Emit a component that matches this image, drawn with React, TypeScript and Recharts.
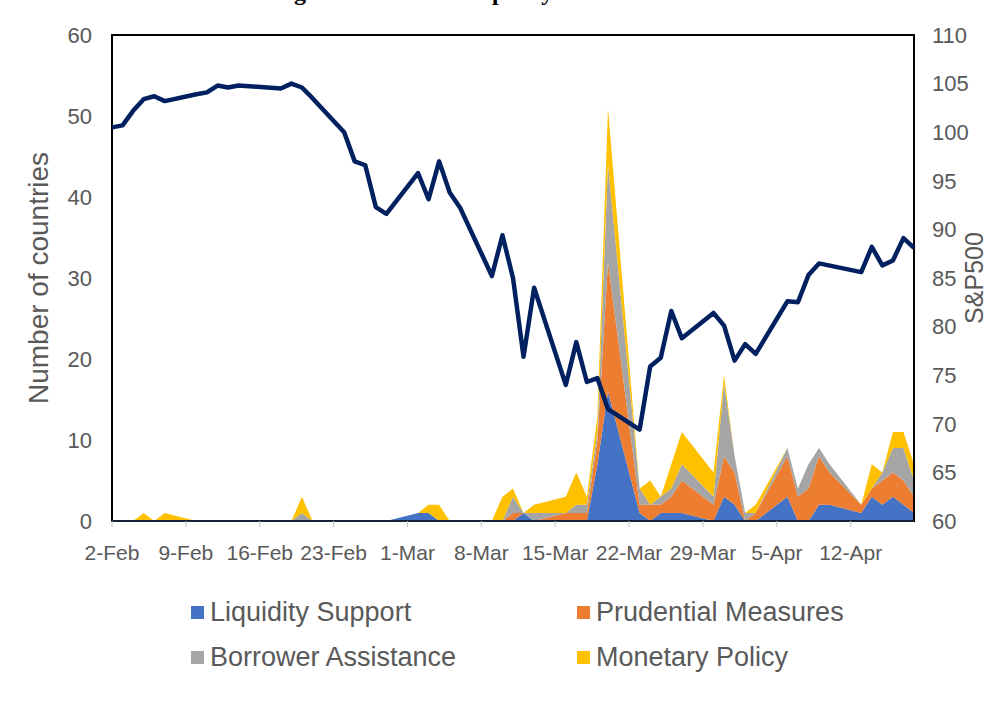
import React from 'react';
import { ComposedChart, Area, Line, XAxis, YAxis, Legend, ReferenceArea } from 'recharts';

// trading days (plus the two edge days where the axis starts/ends)
const dates = [
  '2-Feb', '3-Feb', '4-Feb', '5-Feb', '6-Feb', '7-Feb',
  '10-Feb', '11-Feb', '12-Feb', '13-Feb', '14-Feb',
  '17-Feb', '18-Feb', '19-Feb', '20-Feb', '21-Feb',
  '24-Feb', '25-Feb', '26-Feb', '27-Feb', '28-Feb',
  '2-Mar', '3-Mar', '4-Mar', '5-Mar', '6-Mar',
  '9-Mar', '10-Mar', '11-Mar', '12-Mar', '13-Mar',
  '16-Mar', '17-Mar', '18-Mar', '19-Mar', '20-Mar',
  '23-Mar', '24-Mar', '25-Mar', '26-Mar', '27-Mar',
  '30-Mar', '31-Mar', '1-Apr', '2-Apr', '3-Apr',
  '6-Apr', '7-Apr', '8-Apr', '9-Apr', '10-Apr',
  '13-Apr', '14-Apr', '15-Apr', '16-Apr', '17-Apr',
  '18-Apr',
];

const liquiditySupport = [
  0, 0, 0, 0, 0, 0,
  0, 0, 0, 0, 0,
  0, 0, 0, 0, 0,
  0, 0, 0, 0, 0,
  1, 1, 0, 0, 0,
  0, 0, 0, 1, 0,
  0, 0, 0, 7, 16,
  1, 0, 1, 1, 1,
  0, 3, 2, 0, 0,
  3, 0, 0, 2, 2,
  1, 3, 2, 3, 2,
  1,
];

const prudentialMeasures = [
  0, 0, 0, 0, 0, 0,
  0, 0, 0, 0, 0,
  0, 0, 0, 0, 0,
  0, 0, 0, 0, 0,
  0, 0, 0, 0, 0,
  0, 0, 1, 0, 0,
  1, 1, 1, 3, 16,
  1, 2, 1, 2, 4,
  2, 5, 4, 0, 1,
  5, 3, 4, 6, 4,
  1, 1, 3, 3, 3,
  2,
];

const borrowerAssistance = [
  0, 0, 0, 0, 0, 0,
  0, 0, 0, 0, 0,
  0, 0, 0, 1, 0,
  0, 0, 0, 0, 0,
  0, 0, 0, 0, 0,
  0, 0, 2, 0, 1,
  0, 1, 1, 1, 12,
  2, 0, 1, 1, 2,
  1, 9, 2, 1, 0,
  1, 1, 3, 1, 1,
  0, 0, 1, 3, 4,
  2,
];

const monetaryPolicy = [
  0, 0, 0, 1, 0, 1,
  0, 0, 0, 0, 0,
  0, 0, 0, 2, 0,
  0, 0, 0, 0, 0,
  0, 1, 2, 0, 0,
  0, 3, 1, 0, 1,
  2, 4, 1, 2, 7,
  0, 3, 0, 3, 4,
  3, 1, 0, 0, 1,
  0, 0, 0, 0, 0,
  0, 3, 0, 2, 2,
  2,
];

// S&P500, rebased
const sp500 = [
  100.5, 100.7, 102.2, 103.4, 103.7, 103.2,
  103.9, 104.1, 104.8, 104.6, 104.8,
  null, 104.5, 105.0, 104.6, 103.5,
  100.0, 97.0, 96.6, 92.3, 91.6,
  95.8, 93.1, 97.0, 93.8, 92.2,
  85.2, 89.4, 85.0, 76.9, 84.0,
  74.0, 78.4, 74.3, 74.7, 71.5,
  69.4, 75.9, 76.8, 81.6, 78.8,
  81.4, 80.1, 76.5, 78.2, 77.2,
  82.6, 82.5, 85.3, 86.5, null,
  85.6, 88.2, 86.3, 86.8, 89.1,
  88.1,
];

const tickLabels = ['2-Feb', '9-Feb', '16-Feb', '23-Feb', '1-Mar', '8-Mar', '15-Mar', '22-Mar', '29-Mar', '5-Apr', '12-Apr'];
const leftTicks = [0, 10, 20, 30, 40, 50, 60];
const rightTicks = [60, 65, 70, 75, 80, 85, 90, 95, 100, 105, 110];

const SERIES = [
  { key: 'liquidity', name: 'Liquidity Support', color: '#4472C4', values: liquiditySupport },
  { key: 'prudential', name: 'Prudential Measures', color: '#ED7D31', values: prudentialMeasures },
  { key: 'borrower', name: 'Borrower Assistance', color: '#A5A5A5', values: borrowerAssistance },
  { key: 'monetary', name: 'Monetary Policy', color: '#FFC000', values: monetaryPolicy },
];

const FONT = "'Liberation Sans', Arial, sans-serif";
const GREY = '#595959';

// days since 2-Feb (2020 is a leap year)
const MONTH_OFFSET: Record<string, number> = { Feb: -2, Mar: 27, Apr: 58 };
const dayOf = (label: string) => {
  const [d, m] = label.split('-');
  return MONTH_OFFSET[m] + Number(d);
};
const labelOfDay: Record<number, string> = {};
tickLabels.forEach((l) => { labelOfDay[dayOf(l)] = l; });

const data = dates.map((date, i) => {
  const row: Record<string, any> = { date, day: dayOf(date), sp500: sp500[i] };
  SERIES.forEach((s) => { row[s.key] = s.values[i]; });
  return row;
});

const renderLegend = () => (
  <div style={{ display: 'grid', gridTemplateColumns: '386px 320px', paddingLeft: 191 }}>
    {SERIES.map((s) => (
      <div key={s.key} style={{ display: 'flex', alignItems: 'center', height: 45 }}>
        <span style={{ display: 'inline-block', width: 13, height: 13, background: s.color, marginRight: 6 }} />
        <span style={{ fontSize: 27, color: GREY, fontFamily: FONT }}>{s.name}</span>
      </div>
    ))}
  </div>
);

export default function App() {
  return (
    <div style={{ position: 'absolute', left: 0, top: 0, width: 992, height: 706, background: '#fff', overflow: 'hidden' }}>
      {/* title sits mostly above the cropped picture, as in the source */}
      <div
        style={{
          position: 'absolute', top: -21, left: 0, width: 992, textAlign: 'center',
          fontFamily: "'Liberation Serif', 'Times New Roman', serif", fontWeight: 'bold', fontSize: 24,
        }}
      >
        Figure 1. Timeline of policy announcements
      </div>
      <ComposedChart width={992} height={706} data={data} margin={{ top: 35, right: 0, bottom: 145, left: 0 }}>
        <XAxis
          dataKey="day"
          type="number"
          domain={['dataMin', 'dataMax']}
          ticks={tickLabels.map(dayOf)}
          tickFormatter={(v: number) => labelOfDay[v] ?? ''}
          height={40}
          tickSize={6}
          tickMargin={18}
          axisLine={{ stroke: '#1f2b4a', strokeWidth: 1.5 }}
          tickLine={{ stroke: '#bfbfbf' }}
          tick={{ fill: GREY, fontSize: 21, fontFamily: FONT }}
        />
        <YAxis
          yAxisId="left"
          orientation="left"
          width={112}
          domain={[0, 60]}
          ticks={leftTicks}
          axisLine={false}
          tickLine={false}
          tickMargin={14}
          tick={{ fill: GREY, fontSize: 22, fontFamily: FONT }}
          label={{ value: 'Number of countries', angle: -90, position: 'center', dx: -18, fill: GREY, fontSize: 28, fontFamily: FONT }}
        />
        <YAxis
          yAxisId="right"
          orientation="right"
          width={78}
          domain={[60, 110]}
          ticks={rightTicks}
          axisLine={false}
          tickLine={false}
          tickMargin={12}
          tick={{ fill: GREY, fontSize: 22, fontFamily: FONT }}
          label={{ value: 'S&P500', angle: -90, position: 'center', dx: 21, fill: GREY, fontSize: 25, fontFamily: FONT }}
        />
        {SERIES.map((s) => (
          <Area
            key={s.key}
            yAxisId="left"
            type="linear"
            dataKey={s.key}
            name={s.name}
            stackId="policy"
            stroke="none"
            fill={s.color}
            fillOpacity={1}
            isAnimationActive={false}
          />
        ))}
        <Line
          yAxisId="right"
          type="linear"
          dataKey="sp500"
          name="S&P500"
          stroke="#002060"
          strokeWidth={4.5}
          strokeLinejoin="round"
          dot={false}
          activeDot={false}
          connectNulls
          legendType="none"
          isAnimationActive={false}
        />
        <ReferenceArea
          yAxisId="left"
          x1={data[0].day}
          x2={data[data.length - 1].day}
          y1={0}
          y2={60}
          fill="none"
          stroke="#000"
          strokeWidth={2}
        />
        <Legend verticalAlign="middle" content={renderLegend} wrapperStyle={{ left: 0, top: 590, width: 992 }} />
      </ComposedChart>
    </div>
  );
}
